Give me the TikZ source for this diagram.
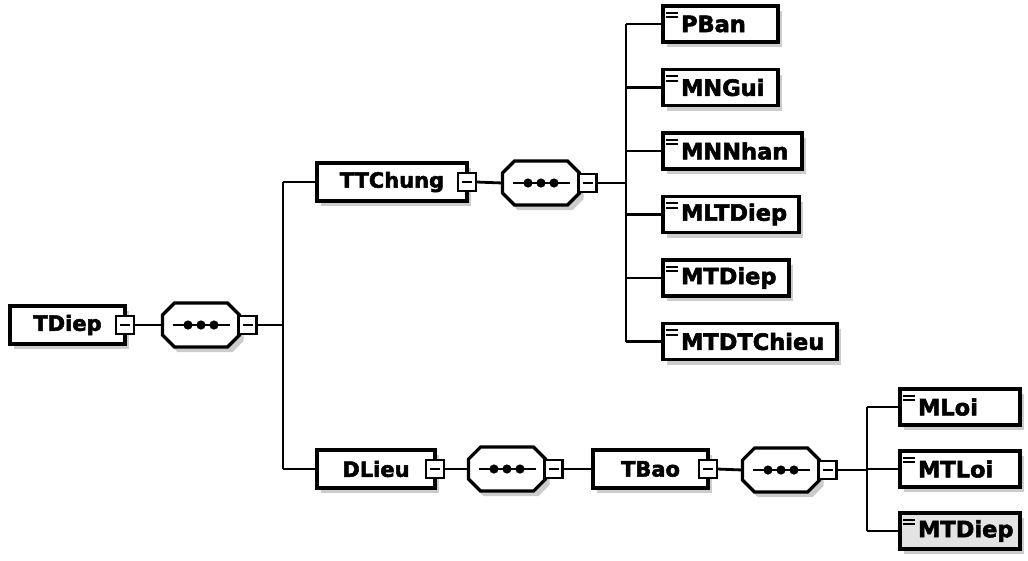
\documentclass[tikz,border=0pt]{standalone}
\usepackage{fontspec}
\setmainfont{DejaVu Sans}[BoldFeatures={FakeBold=2.4}]
\usetikzlibrary{shadows}
\begin{document}
\begin{tikzpicture}[x=1pt,y=-1pt,
  every node/.style={inner sep=0pt, outer sep=0pt},
  shd/.style={general shadow={fill=gray!40, shadow xshift=4pt, shadow yshift=-5pt}},
  elem/.style={draw, line width=3.2pt, fill=white, minimum height=38pt, anchor=west, shd,
    font=\fontsize{21}{21}\selectfont\bfseries},
  leaf/.style={draw, line width=3.2pt, fill=white, minimum height=36pt, anchor=west, shd},
  leaftext/.style={anchor=west, font=\fontsize{22.5}{22.5}\selectfont\bfseries},
  seqbox/.style={minimum width=77pt, minimum height=44pt},
  seqline/.style={draw, line width=3.2pt, fill=white, line join=miter},
  minus/.style={draw, line width=2.8pt, fill=white, minimum width=18pt, minimum height=18pt,
    path picture={\draw[black, line width=1.6pt] ([xshift=4pt]path picture bounding box.west) -- ([xshift=-4pt]path picture bounding box.east);}},
  conn/.style={line width=2.8pt},
  icon/.style={line width=2pt}
]
\fill[white] (0,0) rectangle (1028,560);
\useasboundingbox (0,0) rectangle (1028,560);

% root
\node[elem, minimum width=115pt] (tdiep) at (10,325) {TDiep};
\node[seqbox] (s1) at (201,325) {};
\coordinate (b1) at (283,325);

% TTChung branch
\node[elem, minimum width=150pt] (tt) at (317,182) {TTChung};
\node[seqbox] (s2) at (541,183) {};
\coordinate (b2) at (626,183);

% DLieu branch
\node[elem, minimum width=118pt] (dl) at (317,469) {DLieu};
\node[seqbox] (s3) at (507,469) {};
\node[elem, minimum width=115pt] (tb) at (593,469) {TBao};
\node[seqbox] (s4) at (781,470) {};
\coordinate (b3) at (867,470);

% sequence compositors (octagons)
\foreach \s in {s1,s2,s3,s4}{
  \fill[gray!40] ([xshift=15pt,yshift=-5pt]\s.north west) -- ([xshift=-7pt,yshift=-5pt]\s.north east)
     -- ([xshift=4pt,yshift=-16pt]\s.north east) -- ([xshift=4pt,yshift=6pt]\s.south east)
     -- ([xshift=-7pt,yshift=-5pt]\s.south east) -- ([xshift=15pt,yshift=-5pt]\s.south west)
     -- ([xshift=4pt,yshift=6pt]\s.south west) -- ([xshift=4pt,yshift=-16pt]\s.north west) -- cycle;
  \path[seqline] ([xshift=12pt]\s.north west) -- ([xshift=-12pt]\s.north east)
     -- ([yshift=-12pt]\s.north east) -- ([yshift=12pt]\s.south east)
     -- ([xshift=-12pt]\s.south east) -- ([xshift=12pt]\s.south west)
     -- ([yshift=12pt]\s.south west) -- ([yshift=-12pt]\s.north west) -- cycle;
  \draw[line width=2.6pt] ([xshift=10pt]\s.west) -- ([xshift=-10pt]\s.east);
  \foreach \dx in {-13,0,13} \fill ([xshift=\dx pt]\s.center) circle (4.6pt);
}

% collapse buttons
\node[minus] (mtdiep) at (tdiep.east) {};
\node[minus] (mtt) at (tt.east) {};
\node[minus] (mdl) at (dl.east) {};
\node[minus] (mtb) at (tb.east) {};
\node[minus, anchor=west] (ms1) at ([xshift=-1pt]s1.east) {};
\node[minus, anchor=west] (ms2) at ([xshift=-1pt]s2.east) {};
\node[minus, anchor=west] (ms3) at ([xshift=-1pt]s3.east) {};
\node[minus, anchor=west] (ms4) at ([xshift=-1pt]s4.east) {};

% leaves of TTChung
\node[leaf, minimum width=115pt] (l1) at (663,24) {};
\node[leaf, minimum width=115pt] (l2) at (663,87.5) {};
\node[leaf, minimum width=139pt] (l3) at (663,151) {};
\node[leaf, minimum width=136pt] (l4) at (663,214.5) {};
\node[leaf, minimum width=126pt] (l5) at (663,278) {};
\node[leaf, minimum width=174pt] (l6) at (663,341.5) {};
% leaves of TBao
\node[leaf, minimum width=120pt] (k1) at (900,407) {};
\node[leaf, minimum width=120pt] (k2) at (900,469) {};
\node[leaf, minimum width=120pt, fill=gray!22] (k3) at (900,531) {};

\foreach \n/\t in {l1/PBan,l2/MNGui,l3/MNNhan,l4/MLTDiep,l5/MTDiep,l6/MTDTChieu,k1/MLoi,k2/MTLoi,k3/MTDiep}{
  \node[leaftext] (\n t) at ([xshift=18pt]\n.west) {\t};
  \draw[icon] ([xshift=3pt,yshift=-6.5pt]\n.north west) -- ++(12,0);
  \draw[icon] ([xshift=3pt,yshift=-11pt]\n.north west) -- ++(12,0);
}

% connectors
\draw[conn] (mtdiep.east) -- (s1.west);
\draw[conn] (ms1.east) -- (b1);
\draw[conn] (tt.west -| b1) -- (dl.west -| b1);
\draw[conn] (tt.west -| b1) -- (tt.west);
\draw[conn] (dl.west -| b1) -- (dl.west);

\draw[conn] (mtt.east) -- (s2.west);
\draw[conn] (ms2.east) -- (b2);
\draw[conn] (l1.west -| b2) -- (l6.west -| b2);
\foreach \n in {l1,l2,l3,l4,l5,l6} \draw[conn] (\n.west -| b2) -- (\n.west);

\draw[conn] (mdl.east) -- (s3.west);
\draw[conn] (ms3.east) -- (tb.west);
\draw[conn] (mtb.east) -- (s4.west);
\draw[conn] (ms4.east) -- (b3);
\draw[conn] (k1.west -| b3) -- (k3.west -| b3);
\foreach \n in {k1,k2,k3} \draw[conn] (\n.west -| b3) -- (\n.west);
\end{tikzpicture}
\end{document}
